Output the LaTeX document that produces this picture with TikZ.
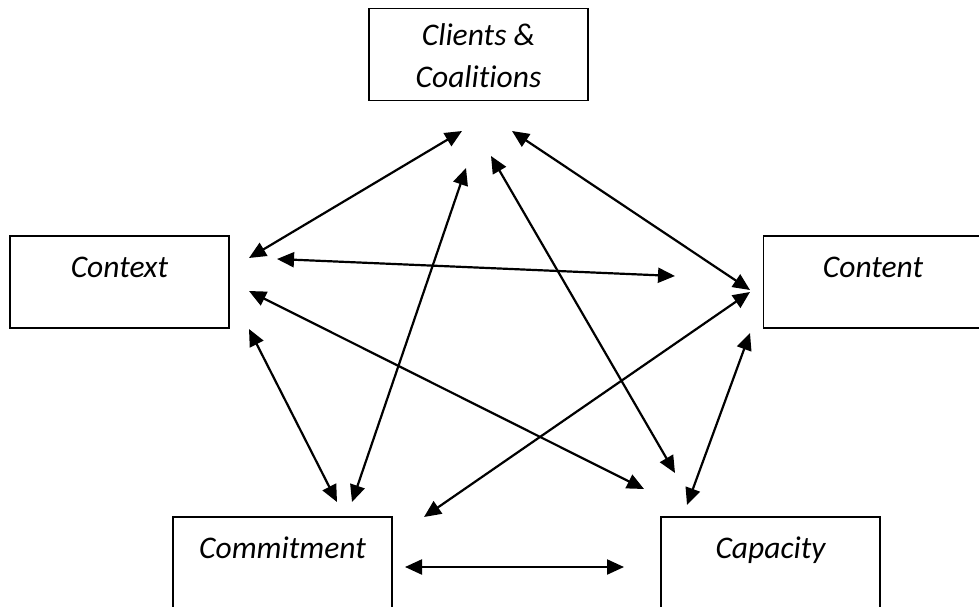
\documentclass[tikz,border=0pt]{standalone}
\usepackage{fontspec}
\setmainfont{Carlito}[Ligatures=NoCommon]
\usetikzlibrary{arrows.meta,calc}
\begin{document}
\begin{tikzpicture}[x=1pt,y=-1pt,
  box/.style={draw=black,line width=1.9pt,rectangle,minimum width=219pt,minimum height=92pt,inner sep=0pt},
  lbl/.style={anchor=base,inner sep=0pt,font=\fontsize{31.5}{42}\selectfont\itshape,align=center},
  link/.style={line width=2.2pt,{Triangle[length=17pt,width=15pt]}-{Triangle[length=17pt,width=15pt]}}]
\useasboundingbox (0,0) rectangle (979,607);
% boxes
\node[box] (cli) at (478.5,54.5) {};
\node[box] (ctx) at (119.5,282) {};
\node[box] (cnt) at (873,282) {};
\node[box] (com) at (282.5,563) {};
\node[box] (cap) at (770.5,563) {};
% labels (base of the last line)
\node[lbl] (clit) at ($(cli.north)+(0,80)$) {Clients \&\\Coalitions};
\node[lbl] (ctxt) at ($(ctx.north)+(0,42)$) {Context};
\node[lbl] (cntt) at ($(cnt.north)+(0,42)$) {Content};
\node[lbl] (comt) at ($(com.north)+(0,42)$) {Commitment};
\node[lbl] (capt) at ($(cap.north)+(0,42)$) {Capacity};
% connector ends
\coordinate (a1) at (249,258);  \coordinate (a2) at (462,131);
\coordinate (b1) at (277,259);  \coordinate (b2) at (675,276);
\coordinate (c1) at (249,291);  \coordinate (c2) at (644,489);
\coordinate (d1) at (249,329);  \coordinate (d2) at (337,502);
\coordinate (e1) at (352,502);  \coordinate (e2) at (466,168);
\coordinate (f1) at (491,156);  \coordinate (f2) at (675,473);
\coordinate (g1) at (512,131);  \coordinate (g2) at (750,290);
\coordinate (h1) at (424,517);  \coordinate (h2) at (750,292);
\coordinate (i1) at (750,333);  \coordinate (i2) at (687,505);
\coordinate (j1) at (405,567);  \coordinate (j2) at (624,567);
% connectors
\draw[link] (a1) -- (a2);
\draw[link] (b1) -- (b2);
\draw[link] (c1) -- (c2);
\draw[link] (d1) -- (d2);
\draw[link] (e1) -- (e2);
\draw[link] (f1) -- (f2);
\draw[link] (g1) -- (g2);
\draw[link] (h1) -- (h2);
\draw[link] (i1) -- (i2);
\draw[link] (j1) -- (j2);
\end{tikzpicture}
\end{document}
